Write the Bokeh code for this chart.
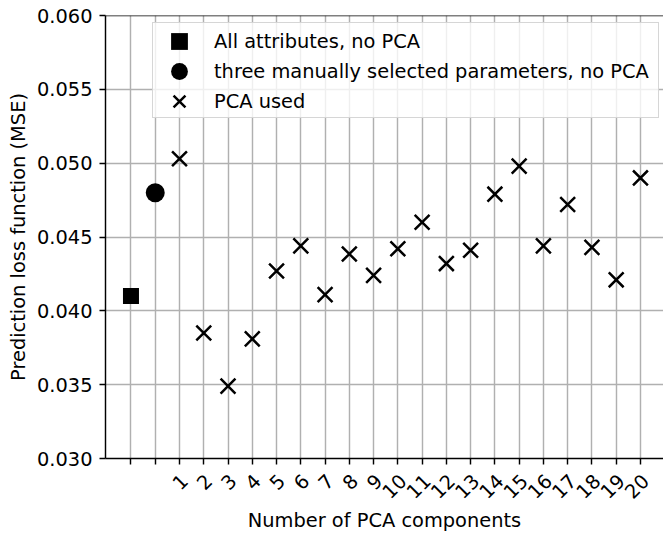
import math
from bokeh.plotting import figure
from bokeh.models import (FixedTicker, PrintfTickFormatter, Legend, LegendItem,
                          Span, Range1d, LinearAxis)
from bokeh.embed import file_html
from bokeh.resources import INLINE

# ---- data ----
pca_components = list(range(1, 21))
pca_mse = [0.0503, 0.0385, 0.0349, 0.0381, 0.0427, 0.0444, 0.0411, 0.04385,
           0.0424, 0.0442, 0.0460, 0.0432, 0.0441, 0.0479, 0.0498, 0.0444,
           0.0472, 0.0443, 0.0421, 0.0490]
all_attr_mse = [0.041]
manual_mse = [0.048]
y_ticks = [0.030, 0.035, 0.040, 0.045, 0.050, 0.055, 0.060]
x_tick_labels = [""] + [""] + [str(c) for c in pca_components]
legend_labels = ["All attributes, no PCA",
                 "three manually selected parameters, no PCA",
                 "PCA used"]

FONT = "DejaVu Sans"
FS = "19.4px"

x_positions = list(range(len(x_tick_labels)))
pca_x = [c + 1 for c in pca_components]

X0, X1 = -1.05, 21.95
LABEL_SHIFT = 0.21   # rotated tick labels centred under their ticks

p = figure(width=663, height=534, output_backend="svg", toolbar_location=None,
           x_range=Range1d(X0, X1), y_range=Range1d(0.030, 0.060),
           min_border_left=105, min_border_right=0, min_border_top=15,
           min_border_bottom=73)
p.extra_x_ranges = {"labels": Range1d(X0 - LABEL_SHIFT, X1 - LABEL_SHIFT)}
p.outline_line_color = None
p.background_fill_color = "white"
p.border_fill_color = "white"

# grid
for g in (p.xgrid, p.ygrid):
    g.grid_line_color = "#b0b0b0"
    g.grid_line_width = 1.45
p.xgrid.ticker = FixedTicker(ticks=x_positions)
p.ygrid.ticker = FixedTicker(ticks=y_ticks)

def style(ax):
    ax.axis_line_color = "black"
    ax.axis_line_width = 1.45
    ax.major_tick_line_color = "black"
    ax.major_tick_line_width = 1.45
    ax.major_tick_out = 6
    ax.major_tick_in = 0
    ax.minor_tick_line_color = None
    ax.major_label_text_font = FONT
    ax.major_label_text_font_size = FS
    ax.major_label_text_color = "black"
    ax.axis_label_text_font = FONT
    ax.axis_label_text_font_size = FS
    ax.axis_label_text_font_style = "normal"
    ax.axis_label_text_color = "black"

# main x axis: line + ticks only
xa = p.xaxis[0]
style(xa)
xa.ticker = FixedTicker(ticks=x_positions)
xa.major_label_overrides = {i: "" for i in x_positions}
xa.major_label_text_font_size = "1px"
xa.major_label_standoff = 0

# label axis (rotated tick labels + axis title)
xl = LinearAxis(x_range_name="labels")
style(xl)
xl.ticker = FixedTicker(ticks=x_positions)
xl.major_label_overrides = {i: lab for i, lab in zip(x_positions, x_tick_labels)}
xl.major_label_orientation = math.pi / 4
xl.axis_line_color = None
xl.major_tick_line_color = None
xl.major_tick_out = 0
xl.major_label_standoff = 13
xl.axis_label = "Number of PCA components"
xl.axis_label_standoff = 1
p.add_layout(xl, "below")

ya = p.yaxis[0]
style(ya)
ya.ticker = FixedTicker(ticks=y_ticks)
ya.formatter = PrintfTickFormatter(format="%.3f")
ya.major_label_standoff = 7
ya.axis_label = "Prediction loss function (MSE)"
ya.axis_label_standoff = 4

# top spine
p.add_layout(Span(location=0.060, dimension="width", line_color="black",
                  line_width=1.45))

# markers
r_sq = p.scatter(x=[0], y=all_attr_mse, marker="square", size=16,
                 fill_color="black", line_color="black", line_width=0)
r_ci = p.scatter(x=[1], y=manual_mse, marker="circle", size=19,
                 fill_color="black", line_color="black", line_width=0)
r_x = p.scatter(x=pca_x, y=pca_mse, marker="x", size=21,
                line_color="black", line_width=2.5)

# invisible renderer used only to give the legend frame a size
r_dummy = p.scatter(x=[], y=[], marker="square", size=1,
                    fill_alpha=0, line_alpha=0)

# legend frame
box_legend = Legend(items=[LegendItem(label=" ", renderers=[r_dummy])],
                    location=(47, 340), margin=0, padding=0, spacing=0,
                    glyph_width=1, glyph_height=94, label_height=94,
                    label_width=504, label_standoff=0,
                    label_text_font=FONT, label_text_font_size=FS,
                    background_fill_color="white", background_fill_alpha=0.8,
                    border_line_color="#cccccc", border_line_width=1.2,
                    border_line_alpha=0.8)
p.add_layout(box_legend, "center")

# legend entries (one legend per entry, so the markers can be large)
entry_bottoms = [396, 366, 336]
for lab, rend, yb in zip(legend_labels, [r_sq, r_ci, r_x], entry_bottoms):
    lg = Legend(items=[LegendItem(label=lab, renderers=[rend])],
                location=(47, yb), margin=0, padding=0, spacing=0,
                glyph_width=54, glyph_height=42, label_height=42,
                label_standoff=8, label_text_font=FONT,
                label_text_font_size=FS, label_text_color="black",
                background_fill_alpha=0, border_line_color=None)
    p.add_layout(lg, "center")

open("out.html", "w").write(file_html(p, INLINE))
